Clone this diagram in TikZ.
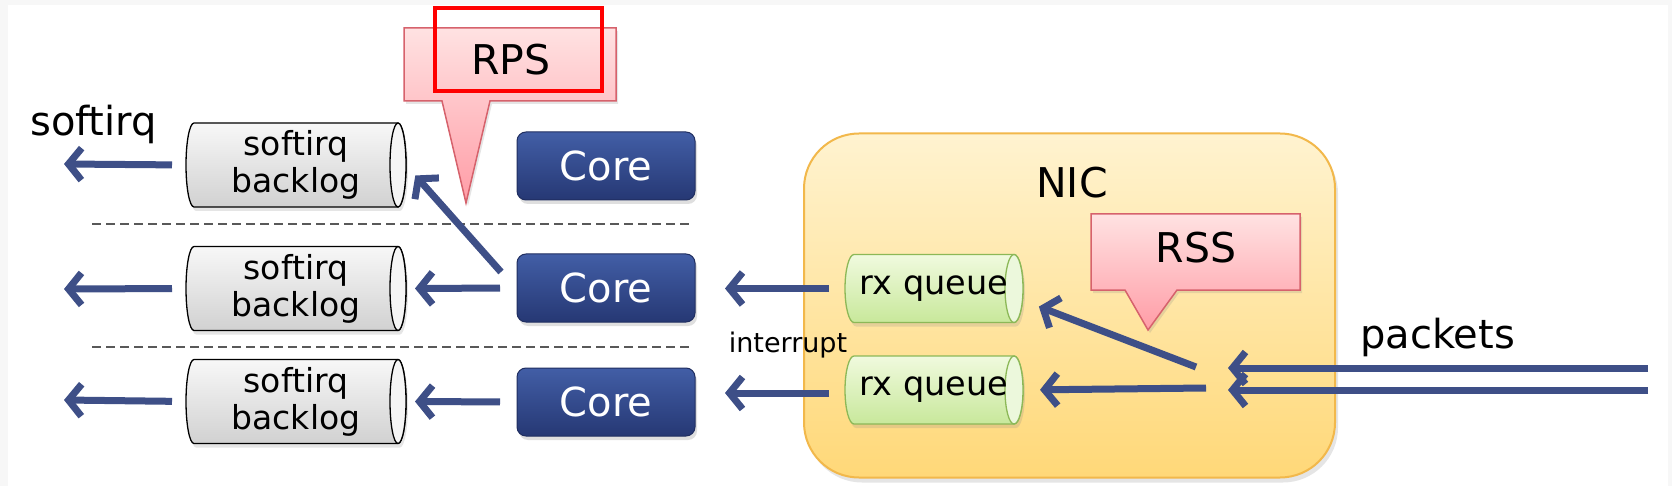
\documentclass[tikz,border=0pt]{standalone}
\usepackage{fontspec}
\setmainfont{DejaVu Sans}
\usetikzlibrary{arrows.meta,shadows}
\definecolor{arrowc}{RGB}{62,79,135}
\definecolor{coretop}{RGB}{66,94,166}
\definecolor{corebot}{RGB}{38,56,116}
\definecolor{coreline}{RGB}{32,46,96}
\definecolor{nictop}{RGB}{255,243,208}
\definecolor{nicbot}{RGB}{255,216,120}
\definecolor{nicline}{RGB}{242,184,75}
\definecolor{rxtop}{RGB}{240,250,222}
\definecolor{rxbot}{RGB}{200,232,155}
\definecolor{rxline}{RGB}{140,184,87}
\definecolor{rxend}{RGB}{236,248,220}
\definecolor{calltop}{RGB}{255,226,226}
\definecolor{callbot}{RGB}{255,156,166}
\definecolor{callline}{RGB}{214,98,108}
\definecolor{framegray}{RGB}{247,247,247}
\pgfdeclarelayer{back}
\pgfdeclarelayer{cyl}
\pgfsetlayers{back,cyl,main}
\tikzset{
  arr/.style={draw=arrowc, line width=7pt, -{Straight Barb[length=13pt,width=32pt]}},
  corebox/.style={rounded corners=9pt, draw=coreline, line width=1pt, top color=coretop, bottom color=corebot,
    minimum width=178pt, minimum height=68pt, outer sep=0pt, text=white, font=\fontsize{40}{48}\selectfont,
    drop shadow={shadow xshift=2pt, shadow yshift=-4pt, opacity=0.25}},
  backlog/.style={minimum width=220pt, minimum height=84pt, inner sep=0pt, outer sep=0pt, align=center,
    font=\fontsize{33}{37}\selectfont},
  rxq/.style={minimum width=178pt, minimum height=68pt, inner sep=0pt, outer sep=0pt,
    font=\fontsize{33.5}{38}\selectfont},
  backfill/.style={draw=black, line width=1.3pt, top color=gray!6, bottom color=gray!36,
    drop shadow={shadow xshift=2pt, shadow yshift=-4pt, opacity=0.2}},
  backend/.style={draw=black, line width=1.3pt, fill=gray!8},
  rxfill/.style={draw=rxline, line width=1.3pt, top color=rxtop, bottom color=rxbot,
    drop shadow={shadow xshift=2pt, shadow yshift=-4pt, opacity=0.2}},
  rxendst/.style={draw=rxline, line width=1.3pt, fill=rxend},
  callout/.style={draw=callline, line width=1.5pt, top color=calltop, bottom color=callbot,
    drop shadow={shadow xshift=2pt, shadow yshift=-3pt, opacity=0.2}},
  sep/.style={draw=gray!70!black, line width=2pt, dash pattern=on 9pt off 5pt},
  big/.style={font=\fontsize{41}{48}\selectfont, inner sep=0pt},
}
% #1 node, #2 end x radius, #3 half height, #4 body style, #5 end style
\newcommand\cylshape[5]{%
  \path[#4] ([xshift=#2]#1.north west) -- ([xshift=-#2]#1.north east)
    arc[start angle=90, end angle=-90, x radius=#2, y radius=#3]
    -- ([xshift=#2]#1.south west)
    arc[start angle=270, end angle=90, x radius=#2, y radius=#3] -- cycle;
  \path[#5] ([xshift=-#2]#1.east) ellipse [x radius=#2, y radius=#3];
}
\begin{document}
\begin{tikzpicture}[x=1pt,y=-1pt]
\useasboundingbox (0,0) rectangle (1672,486);
\begin{pgfonlayer}{back}
\fill[framegray] (0,0) rectangle (1672,486);
\fill[white] (8,5) rectangle (1668,486);
% separators
\draw[sep] (92,224) -- (691,224);
\draw[sep] (92,347) -- (691,347);
% NIC
\node[draw=nicline, line width=2pt, rounded corners=55pt, top color=nictop, bottom color=nicbot,
  minimum width=531pt, minimum height=344pt,
  drop shadow={shadow xshift=3pt, shadow yshift=-5pt, opacity=0.2}] (nic) at (1069.5,305.5) {};
\end{pgfonlayer}
\node[big, anchor=base] (niclbl) at (1072,198) {NIC};

% RPS callout
\path[callout] (404,28) -- (616,28) -- (616,101) -- (490,101) -- (466,203) -- (442,101) -- (404,101) -- cycle;
\node[big] (rps) at (511,60) {RPS};
\draw[red, line width=4pt] (435,8) rectangle (602,91);

% RSS callout
\path[callout] (1091,214) -- (1300,214) -- (1300,290) -- (1177,290) -- (1148,330) -- (1125,290) -- (1091,290) -- cycle;
\node[big] (rss) at (1196,248) {RSS};

% backlogs
\node[backlog] (b1) at (296,165) {softirq\\backlog};
\node[backlog] (b2) at (296,288.5) {softirq\\backlog};
\node[backlog] (b3) at (296,401.5) {softirq\\backlog};

% cores
\node[corebox] (c1) at (606,166) {Core};
\node[corebox] (c2) at (606,288) {Core};
\node[corebox] (c3) at (606,402) {Core};

% rx queues
\node[rxq] (r1) at (934,288.5) {rx queue};
\node[rxq] (r2) at (934,390) {rx queue};

\begin{pgfonlayer}{cyl}
\cylshape{b1}{8pt}{42pt}{backfill}{backend}
\cylshape{b2}{8pt}{42pt}{backfill}{backend}
\cylshape{b3}{8pt}{42pt}{backfill}{backend}
\cylshape{r1}{9pt}{34pt}{rxfill}{rxendst}
\cylshape{r2}{9pt}{34pt}{rxfill}{rxendst}
\end{pgfonlayer}

% labels
\node[font=\fontsize{40}{48}\selectfont, inner sep=0pt, anchor=base west] (sirq) at (30,136) {softirq};
\node[font=\fontsize{27}{32}\selectfont, inner sep=0pt] (intr) at (788,345) {interrupt};
\node[font=\fontsize{40}{48}\selectfont, inner sep=0pt, anchor=base west] (pk) at (1360,348) {packets};

% coordinates
\coordinate (o1) at (64,164);
\coordinate (o2) at (64,289);
\coordinate (o3) at (64,400);
\coordinate (d1) at (501,272);
\coordinate (s1) at (1196,367);
\coordinate (s2) at (1206,388);
\coordinate (p1) at (1648,368);
\coordinate (p2) at (1648,390);
\coordinate (q1) at (1228,368);
\coordinate (q2) at (1228,390);

% arrows
\draw[arr, shorten <=14pt] (b1.west) -- (o1);
\draw[arr, shorten <=14pt] (b2.west) -- (o2);
\draw[arr, shorten <=14pt] (b3.west) -- (o3);
\draw[arr, shorten <=17pt, shorten >=9pt] (c2.west) -- (b2.east);
\draw[arr, shorten <=17pt, shorten >=9pt] (c3.west) -- (b3.east);
\draw[arr, shorten >=14pt] (d1) -- (b1.east);
\draw[arr, shorten <=16pt, shorten >=30pt] (r1.west) -- (r1.west -| c2.east);
\draw[arr, shorten <=16pt, shorten >=30pt] ([yshift=-3pt]r2.west) -- ([yshift=-3pt]r2.west -| c3.east);
\draw[arr, shorten >=17pt] (s1) -- ([yshift=-12pt]r1.east);
\draw[arr, shorten >=17pt] (s2) -- (r2.east);
\draw[arr] (p1) -- (q1);
\draw[arr] (p2) -- (q2);
\end{tikzpicture}
\end{document}
